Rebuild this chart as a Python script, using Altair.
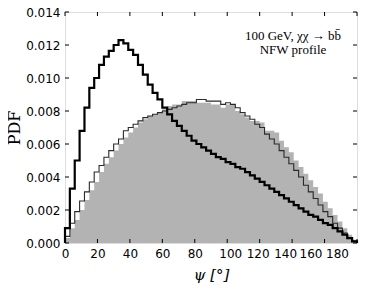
import altair as alt
import pandas as pd

bin_width = 3
# PDF values per 3-degree bin, psi from 0 to 180
black_vals = [0.0009, 0.0033, 0.0050, 0.0068, 0.0082, 0.0094, 0.0100, 0.0108, 0.0113, 0.01165,
              0.0120, 0.0123, 0.0121, 0.0117, 0.0114, 0.0108, 0.0102, 0.0096, 0.0091, 0.0087,
              0.0082, 0.0078, 0.0074, 0.0071, 0.0068, 0.0065, 0.0062, 0.0060, 0.0058, 0.0056,
              0.0054, 0.0052, 0.0051, 0.0049, 0.0048, 0.0046, 0.0045, 0.0043, 0.0041, 0.0039,
              0.0037, 0.0035, 0.0033, 0.0031, 0.0029, 0.0027, 0.0025, 0.0023, 0.0021, 0.0019,
              0.0017, 0.0016, 0.0014, 0.0012, 0.0011, 0.0009, 0.0007, 0.0005, 0.0003, 0.0001]
thin_vals = [0.0004, 0.0012, 0.0019, 0.00255, 0.0031, 0.0037, 0.0043, 0.0047, 0.0052, 0.0056,
             0.0060, 0.0063, 0.0068, 0.0070, 0.0072, 0.0074, 0.0076, 0.0077, 0.0078, 0.0079,
             0.0080, 0.0081, 0.0082, 0.0083, 0.0084, 0.0085, 0.0085, 0.0087, 0.0087, 0.0086,
             0.0086, 0.0086, 0.0084, 0.0085, 0.0084, 0.0082, 0.0079, 0.0077, 0.0075, 0.0072,
             0.0070, 0.0066, 0.0063, 0.0060, 0.0056, 0.0052, 0.0048, 0.0044, 0.0040, 0.0035,
             0.0031, 0.0027, 0.0023, 0.0019, 0.0016, 0.0012, 0.0009, 0.0006, 0.0003, 0.0001]
gray_vals = [0.0003, 0.0009, 0.0014, 0.0020, 0.0026, 0.0032, 0.0037, 0.0043, 0.0048, 0.0052,
             0.0056, 0.0060, 0.0064, 0.0067, 0.0070, 0.0073, 0.0075, 0.0077, 0.0078, 0.0079,
             0.0081, 0.0083, 0.0084, 0.0084, 0.0086, 0.0086, 0.0086, 0.0085, 0.0085, 0.0085,
             0.0084, 0.0084, 0.0082, 0.0084, 0.0084, 0.0080, 0.0078, 0.0076, 0.0074, 0.0074,
             0.0073, 0.0068, 0.0068, 0.0067, 0.0062, 0.0058, 0.0055, 0.0050, 0.0046, 0.0042,
             0.0038, 0.0034, 0.0030, 0.0025, 0.0021, 0.0017, 0.0013, 0.0009, 0.0005, 0.0002]
x_ticks = [0, 20, 40, 60, 80, 100, 120, 140, 160, 180]
# the reference draws the tick labels from 100 on slightly packed to the left
x_label_shift = [0, 0, 0, 0, 0, 3, -2, -7, -14, -20]
y_ticks = [0.000, 0.002, 0.004, 0.006, 0.008, 0.010, 0.012, 0.014]
annot_lines = ["100 GeV, \u03c7\u03c7 \u2192 bb\u0304", "NFW profile"]

W, H = 292, 231


def steps(vals, closed=True):
    rows = []
    if closed:
        rows.append({"x": 0, "v": 0.0, "i": 0})
    for k, v in enumerate(vals):
        rows.append({"x": k * bin_width, "v": v, "i": k + 1})
    n = len(vals)
    rows.append({"x": n * bin_width, "v": vals[-1], "i": n + 1})
    if closed:
        rows.append({"x": n * bin_width, "v": 0.0, "i": n + 2})
    return pd.DataFrame(rows)


shift_expr = " : ".join(
    f"datum.value == {t} ? {s}" for t, s in zip(x_ticks, x_label_shift) if s != 0
) + " : 0"

xs = alt.Scale(domain=[0, 180], nice=False, zero=False)
ys = alt.Scale(domain=[0, 0.014], nice=False)
xaxis = alt.Axis(values=x_ticks, title="\u03c8 [\u00b0]", ticks=False, tickSize=0, domain=False,
                 grid=False, labelFont="DejaVu Sans", labelFontSize=12, labelColor="black",
                 labelPadding=5, labelOverlap=False, labelFlush=False,
                 labelOffset={"expr": shift_expr},
                 titleFont="DejaVu Serif", titleFontSize=15,
                 titleFontStyle="italic", titleFontWeight="normal", titleColor="black",
                 titlePadding=8)
yaxis = alt.Axis(values=y_ticks, title="PDF", format=".3f", ticks=False, tickSize=0, domain=False,
                 grid=False, labelFont="DejaVu Sans", labelFontSize=12, labelColor="black",
                 labelPadding=5, labelOverlap=False, labelFlush=False,
                 titleFont="DejaVu Serif", titleFontSize=16,
                 titleFontWeight="normal", titleColor="black", titlePadding=3)


def X(f="x"):
    return alt.X(f"{f}:Q", scale=xs, axis=xaxis)


def Y(f="v"):
    return alt.Y(f"{f}:Q", scale=ys, axis=yaxis)


gray = alt.Chart(steps(gray_vals, closed=False)).mark_area(
    interpolate="step-after", color="#b3b3b3", opacity=1
).encode(x=X(), y=Y())

thin = alt.Chart(steps(thin_vals)).mark_line(
    interpolate="step-after", color="#2a2a2a", strokeWidth=1.1
).encode(x=X(), y=Y(), order="i:Q")

black = alt.Chart(steps(black_vals)).mark_line(
    interpolate="step-after", color="black", strokeWidth=2.2
).encode(x=X(), y=Y(), order="i:Q")

xt = pd.DataFrame({"x": x_ticks})
yt = pd.DataFrame({"v": y_ticks})
tick_style = dict(color="black", strokeWidth=1)
bt = alt.Chart(xt).mark_rule(**tick_style).encode(x=X(), y=alt.value(H), y2=alt.value(H - 4))
tt = alt.Chart(xt).mark_rule(**tick_style).encode(x=X(), y=alt.value(0), y2=alt.value(4))
lt = alt.Chart(yt).mark_rule(**tick_style).encode(y=Y(), x=alt.value(0), x2=alt.value(4))
rt = alt.Chart(yt).mark_rule(**tick_style).encode(y=Y(), x=alt.value(W), x2=alt.value(W - 4))

text_style = dict(font="Liberation Serif", fontSize=13, color="black", align="center",
                  baseline="middle")
ann1 = alt.Chart(pd.DataFrame({"t": [annot_lines[0]]})).mark_text(**text_style).encode(
    text="t:N", x=alt.value(228), y=alt.value(24))
ann2 = alt.Chart(pd.DataFrame({"t": [annot_lines[1]]})).mark_text(**text_style).encode(
    text="t:N", x=alt.value(228), y=alt.value(38))

chart = alt.layer(gray, thin, black, bt, tt, lt, rt, ann1, ann2).properties(
    width=W, height=H,
    padding={"left": 57, "top": 4, "right": 9, "bottom": 40},
    autosize=alt.AutoSizeParams(type="none"),
).configure_view(stroke="black", strokeWidth=1.2).configure(background="white")

chart.save("out.html", embed_options={"renderer": "svg", "actions": False})
